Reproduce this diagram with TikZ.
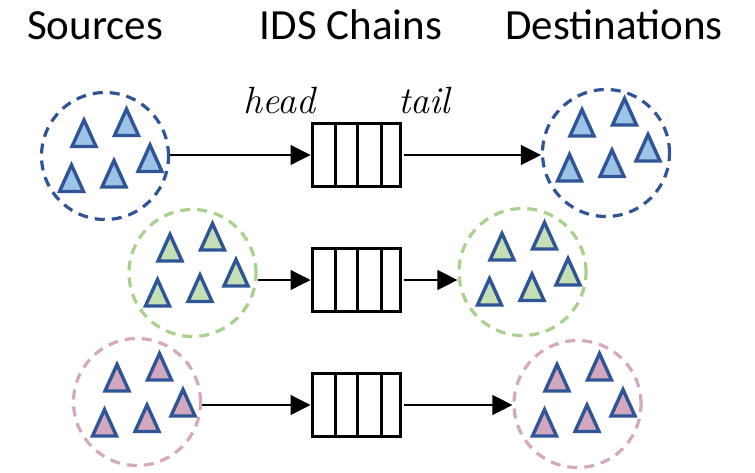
\documentclass[tikz,border=0pt]{standalone}
\usepackage{fontspec}
\newfontfamily\headfont{Carlito}
\usetikzlibrary{arrows.meta}
\definecolor{dblue}{HTML}{2F5597}
\definecolor{lblue}{HTML}{9DC3E6}
\definecolor{cgreen}{HTML}{A9D18E}
\definecolor{lgreen}{HTML}{C5E0B4}
\definecolor{cpink}{HTML}{D5A8BE}
\definecolor{lpink}{HTML}{D3A7BD}
\tikzset{
  group/.style={circle, draw=#1, dash pattern=on 10pt off 7pt, line width=3.2pt,
    minimum size=127pt, inner sep=0pt},
  chain/.style={draw, line width=3pt, minimum width=88pt, minimum height=63pt, inner sep=0pt},
  divider/.style={line width=3pt},
  link/.style={-{Triangle[length=20pt,width=20pt]}, line width=1.3pt},
  heading/.style={font=\headfont\fontsize{43}{50}\selectfont, anchor=base, inner sep=0pt},
  endlabel/.style={font=\fontsize{38}{40}\selectfont\itshape, anchor=base west, inner sep=0pt},
  pics/cluster/.style={code={
    \foreach \dx/\dy in {-21/-25, 21.5/-36, 45/0, -33.5/20, 9/15.5}
      \filldraw[fill=#1, draw=dblue, line width=3.4pt]
        (\dx-12,\dy+13) -- (\dx,\dy-13.5) -- (\dx+12,\dy+13) -- cycle;
  }}
}
\begin{document}
\begin{tikzpicture}[x=1pt,y=-1pt]
\useasboundingbox (0,0) rectangle (755,472);

% headings
\node[heading] (hsrc) at (95,39) {Sources};
\node[heading] (hids) at (351,39) {IDS Chains};
\node[heading] (hdst) at (614,39) {Destinations};

% chains
\foreach \n/\y in {A/155, B/280, C/405}{
  \node[chain] (box\n) at (356,\y) {};
  \foreach \dx in {-20.5, 1.5, 25.5}
    \draw[divider] ([xshift=\dx pt]box\n.north) -- ([xshift=\dx pt]box\n.south);
}

\node[endlabel] (head) at (243,113) {head};
\node[endlabel] (tail) at (398,113) {tail};

% sources and destinations
\node[group=dblue]  (srcA) at (105,156) {};
\node[group=cgreen] (srcB) at (192.5,273) {};
\node[group=cpink]  (srcC) at (137,402) {};
\node[group=dblue]  (dstA) at (606,153) {};
\node[group=cgreen] (dstB) at (522.5,272) {};
\node[group=cpink]  (dstC) at (577.5,404) {};

\pic (tsA) at (105,158.5) {cluster=lblue};
\pic (tsB) at (191,273) {cluster=lgreen};
\pic (tsC) at (138,403) {cluster=lpink};
\pic (tdA) at (603,148) {cluster=lblue};
\pic (tdB) at (523,272) {cluster=lgreen};
\pic (tdC) at (578,403) {cluster=lpink};

% connectors
\foreach \n in {A,B,C}{
  \draw[link] (src\n.east |- box\n.west) -- (box\n.west);
  \draw[link, shorten <=2pt] (box\n.east) -- (box\n.east -| dst\n.west);
}
\end{tikzpicture}
\end{document}
